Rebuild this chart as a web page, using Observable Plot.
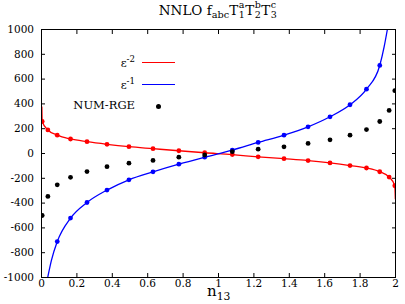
<!DOCTYPE html>
<html>
<head>
<meta charset="utf-8">
<script src="https://cdn.jsdelivr.net/npm/d3@7"></script>
<script src="https://cdn.jsdelivr.net/npm/@observablehq/plot@0.6"></script>
<style>
  html, body { margin: 0; padding: 0; background: #fff; }
  #wrap { position: relative; width: 405px; height: 304px; font-family: "DejaVu Serif", "Liberation Serif", serif; color: #000; }
  #chart svg { display: block; }
  .title { position: absolute; left: 41px; width: 354px; top: 2px; text-align: center; font-size: 13.5px; line-height: 16px; white-space: nowrap; }
  .ss { display: inline-block; position: relative; width: 7px; height: 11px; font-size: 9.5px; }
  .ss .up { position: absolute; left: 0.5px; top: -4px; line-height: 1; }
  .ss .dn { position: absolute; left: 0.5px; top: 6px; line-height: 1; }
  .sub1 { font-size: 0.72em; vertical-align: -0.35em; }
  .xlabel { position: absolute; left: 207px; top: 282px; font-size: 15px; white-space: nowrap; }
  .legend { position: absolute; font-size: 11.5px; font-family: "DejaVu Serif", "Liberation Serif", serif; }
  .ltext { position: absolute; white-space: nowrap; }
  .lline { position: absolute; height: 0; border-top: 1.3px solid; }
  .ldot { position: absolute; width: 5px; height: 5px; border-radius: 50%; background: #000; }
  sup { font-size: 0.75em; }
</style>
</head>
<body>
<div id="wrap">
  <div id="chart"></div>
  <div class="title">NNLO f<span class="sub1">abc</span>T<span class="ss"><span class="up">a</span><span class="dn">1</span></span>T<span class="ss"><span class="up">b</span><span class="dn">2</span></span>T<span class="ss"><span class="up">c</span><span class="dn">3</span></span></div>
  <div class="xlabel">n<span class="sub1">13</span></div>
  <div id="legend"></div>
</div>
<script>
// ---- data ----
const nSamples = [0.004, 0.036, 0.089, 0.164, 0.257, 0.37, 0.494, 0.63, 0.776, 0.922,
                  1.078, 1.224, 1.37, 1.506, 1.63, 1.743, 1.836, 1.911, 1.964, 1.996];
const epsM2Dots = [258, 190, 148, 117, 95, 74, 55, 39, 22, 6,
                   -9, -27, -42, -57, -76, -97, -117, -147, -190, -260];
const epsM1Dots = [null, null, -710, -521, -395, -295, -212, -148, -86, -30,
                   27, 89, 148, 215, 296, 393, 519, 710, null, null];
const numRgeDots = [-500, -346, -253, -192, -146, -106, -78, -56, -30, -12,
                    15, 35, 54, 81, 110, 148, 193, 258, 347, 507];
// curve end points (line continues beyond the sampled dots)
const epsM2LineStartX = [0.002];  const epsM2LineStartY = [375];
const epsM2LineEndX = [1.999];    const epsM2LineEndY = [-367];
const epsM1LineStartX = [0.035, 0.056]; const epsM1LineStartY = [-1000, -862];
const epsM1LineEndX = [1.936, 1.954];   const epsM1LineEndY = [862, 1000];

const xTicks = [0, 0.2, 0.4, 0.6, 0.8, 1, 1.2, 1.4, 1.6, 1.8, 2];
const yTicks = [-1000, -800, -600, -400, -200, 0, 200, 400, 600, 800, 1000];

const legendItems = [
  {label: "ε", sup: "-2", color: "#ff0000", kind: "line"},
  {label: "ε", sup: "-1", color: "#0000ff", kind: "line"},
  {label: "NUM-RGE", sup: "", color: "#000000", kind: "dot"}
];

// ---- build tables ----
const redLine = [
  ...epsM2LineStartX.map((x, i) => ({x, y: epsM2LineStartY[i]})),
  ...nSamples.map((x, i) => ({x, y: epsM2Dots[i]})),
  ...epsM2LineEndX.map((x, i) => ({x, y: epsM2LineEndY[i]}))
];
const blueLine = [
  ...epsM1LineStartX.map((x, i) => ({x, y: epsM1LineStartY[i]})),
  ...nSamples.map((x, i) => ({x, y: epsM1Dots[i]})).filter(d => d.y != null),
  ...epsM1LineEndX.map((x, i) => ({x, y: epsM1LineEndY[i]}))
];
const redDots = nSamples.map((x, i) => ({x, y: epsM2Dots[i]}));
const blueDots = nSamples.map((x, i) => ({x, y: epsM1Dots[i]})).filter(d => d.y != null);
const blackDots = nSamples.map((x, i) => ({x, y: numRgeDots[i]}));

const fmt = d => String(d);

const chart = Plot.plot({
  width: 405,
  height: 304,
  marginLeft: 41,
  marginRight: 10,
  marginTop: 29,
  marginBottom: 27,
  style: {fontFamily: "'DejaVu Serif', 'Liberation Serif', serif", fontSize: "10.5px", color: "#000", background: "#fff"},
  x: {domain: [0, 2]},
  y: {domain: [-1000, 1000]},
  marks: [
    Plot.line(redLine, {x: "x", y: "y", stroke: "#ff0000", strokeWidth: 1.3, curve: "monotone-x", clip: true}),
    Plot.line(blueLine, {x: "x", y: "y", stroke: "#0000ff", strokeWidth: 1.3, curve: "monotone-x", clip: true}),
    Plot.dot(redDots, {x: "x", y: "y", fill: "#ff0000", r: 2.4, clip: true}),
    Plot.dot(blueDots, {x: "x", y: "y", fill: "#0000ff", r: 2.4, clip: true}),
    Plot.dot(blackDots, {x: "x", y: "y", fill: "#000000", r: 2.4, clip: true}),
    Plot.axisX({ticks: xTicks, tickSize: -4, tickPadding: 6, tickFormat: fmt, label: null}),
    Plot.axisX({anchor: "top", ticks: xTicks, tickSize: -4, tickFormat: () => "", label: null}),
    Plot.axisY({ticks: yTicks, tickSize: -4, tickPadding: 11.5, tickFormat: fmt, label: null}),
    Plot.axisY({anchor: "right", ticks: yTicks, tickSize: -4, tickFormat: () => "", label: null}),
    Plot.frame({stroke: "#000", strokeWidth: 1})
  ]
});
document.getElementById("chart").appendChild(chart);

// ---- legend (HTML overlay) ----
const legend = document.getElementById("legend");
const rowYs = [63, 85, 106];
legendItems.forEach((it, i) => {
  const t = document.createElement("div");
  t.className = "legend ltext";
  t.style.right = (405 - 135) + "px";
  t.style.top = rowYs[i] + "px";
  t.style.transform = "translateY(-55%)";
  t.innerHTML = it.label + (it.sup ? "<sup>" + it.sup + "</sup>" : "");
  legend.appendChild(t);
  if (it.kind === "line") {
    const l = document.createElement("div");
    l.className = "lline";
    l.style.left = "142px";
    l.style.width = "33px";
    l.style.top = (rowYs[i] - 0.6) + "px";
    l.style.borderTopColor = it.color;
    legend.appendChild(l);
  } else {
    const d = document.createElement("div");
    d.className = "ldot";
    d.style.left = "156px";
    d.style.top = (rowYs[i] - 2.5) + "px";
    d.style.background = it.color;
    legend.appendChild(d);
  }
});
</script>
</body>
</html>
